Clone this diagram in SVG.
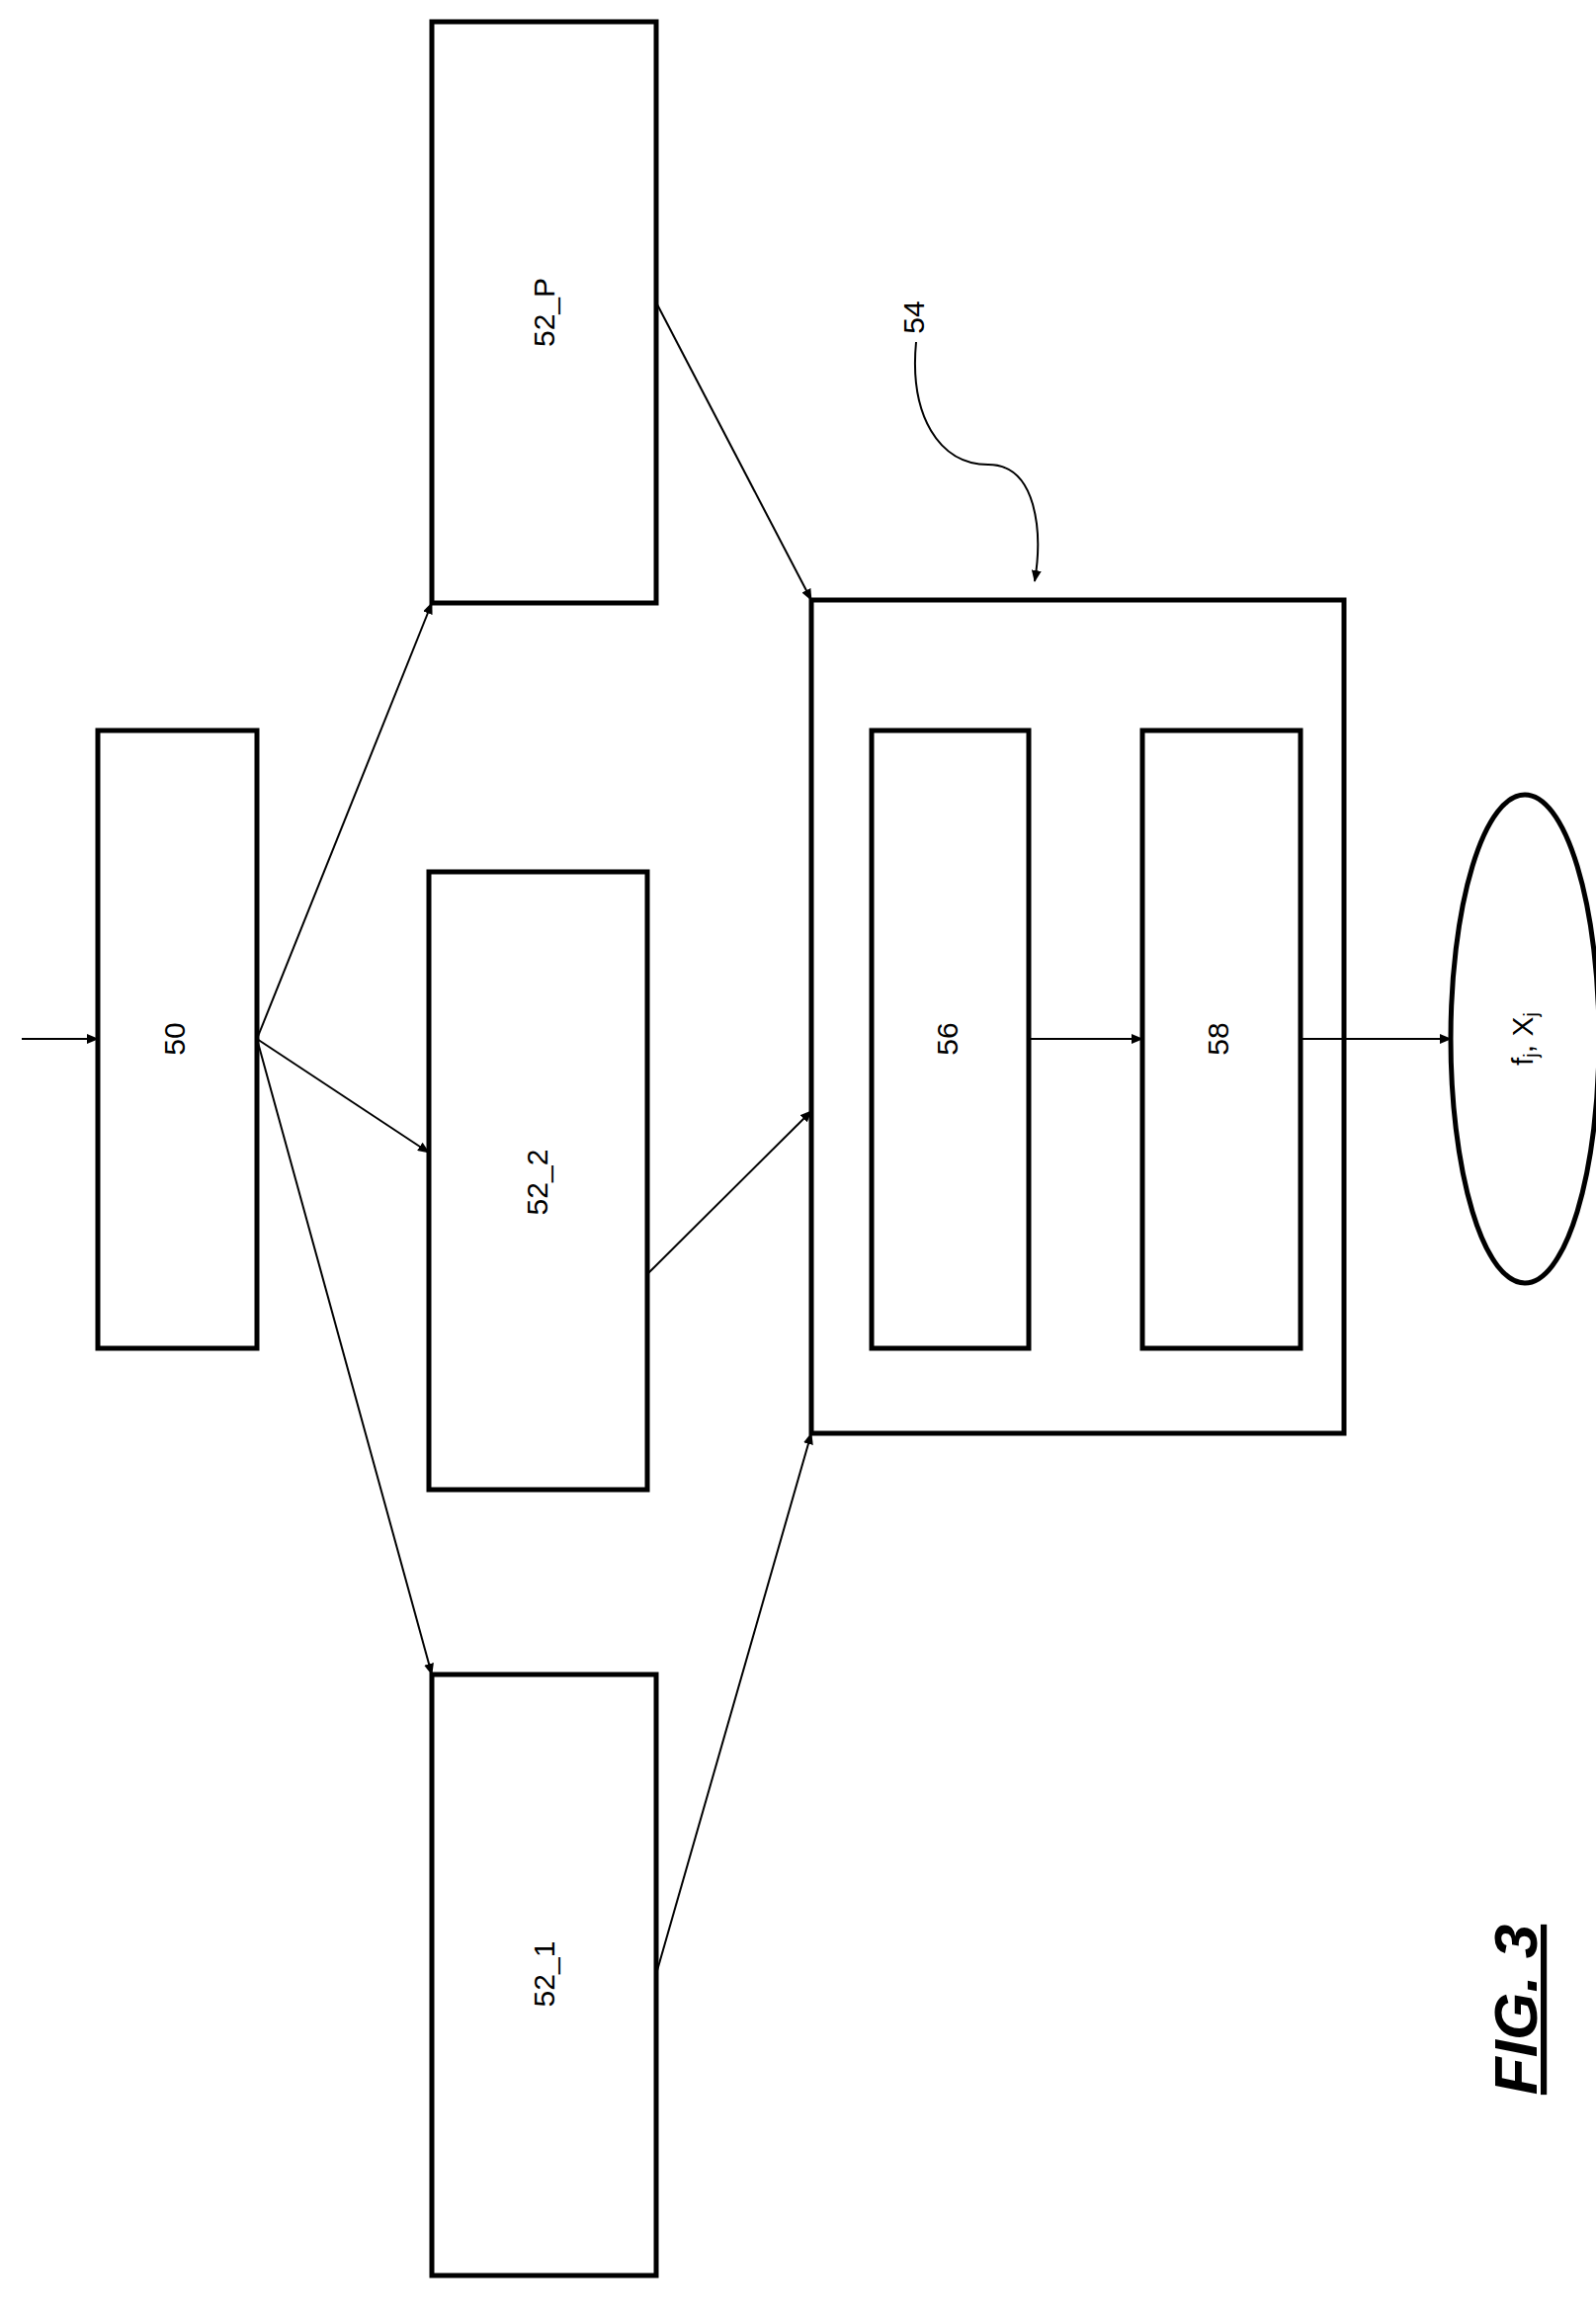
<svg xmlns="http://www.w3.org/2000/svg" width="1615" height="2345" viewBox="0 0 1615 2345">
<style>
.b{fill:none;stroke:#000;stroke-width:5}
.t{font-family:"Liberation Sans",Arial,sans-serif;font-size:30px;text-anchor:middle;dominant-baseline:middle}
.c{stroke:#000;stroke-width:2;fill:none;marker-end:url(#a)}
</style>
<defs><marker id="a" markerWidth="12" markerHeight="10" refX="11" refY="5" orient="auto" markerUnits="userSpaceOnUse"><path d="M0,0L12,5L0,10z" fill="#000"/></marker></defs>
<rect width="1615" height="2345" fill="#fff"/>
<g id="n50"><rect class="b" x="99" y="739" width="161" height="625"/><text class="t" transform="translate(179,1051) rotate(-90)">50</text></g>
<g id="n52P"><rect class="b" x="437" y="22" width="227" height="588"/><text class="t" transform="translate(553,316) rotate(-90)">52_P</text></g>
<g id="n52_2"><rect class="b" x="434" y="882" width="221" height="625"/><text class="t" transform="translate(546,1196) rotate(-90)">52_2</text></g>
<g id="n52_1"><rect class="b" x="437" y="1694" width="227" height="608"/><text class="t" transform="translate(553,1997) rotate(-90)">52_1</text></g>
<g id="n54"><rect class="b" x="821" y="607" width="539" height="843"/><text class="t" transform="translate(927,321) rotate(-90)">54</text></g>
<g id="n56"><rect class="b" x="882" y="739" width="159" height="625"/><text class="t" transform="translate(961,1051) rotate(-90)">56</text></g>
<g id="n58"><rect class="b" x="1156" y="739" width="160" height="625"/><text class="t" transform="translate(1235,1051) rotate(-90)">58</text></g>
<g id="nout"><ellipse class="b" cx="1543" cy="1051" rx="75" ry="247"/><text class="t" transform="translate(1543,1051) rotate(-90)">f<tspan font-size="20" dy="8">j</tspan><tspan dy="-8">, X</tspan><tspan font-size="20" dy="8">j</tspan></text></g>
<g id="fig"><text transform="translate(1555,2033) rotate(-90)" font-family="Liberation Sans,Arial,sans-serif" font-size="62" font-weight="bold" font-style="italic" text-anchor="middle" text-decoration="underline">FIG. 3</text></g>
<g id="connectors">
<line class="c" x1="22" y1="1051" x2="99" y2="1051"/>
<line class="c" x1="260" y1="1051" x2="437" y2="610"/>
<line class="c" x1="260" y1="1051" x2="434" y2="1166"/>
<line class="c" x1="260" y1="1051" x2="437" y2="1694"/>
<line class="c" x1="664" y1="306" x2="821" y2="607"/>
<line class="c" x1="655" y1="1289" x2="821" y2="1124"/>
<line class="c" x1="664" y1="1997" x2="821" y2="1450"/>
<line class="c" x1="1041" y1="1051" x2="1156" y2="1051"/>
<line class="c" x1="1316" y1="1051" x2="1468" y2="1051"/>
<path class="c" d="M927,346 C920,420 950,470 1000,470 C1050,470 1055,540 1047,588"/>
</g>
</svg>
